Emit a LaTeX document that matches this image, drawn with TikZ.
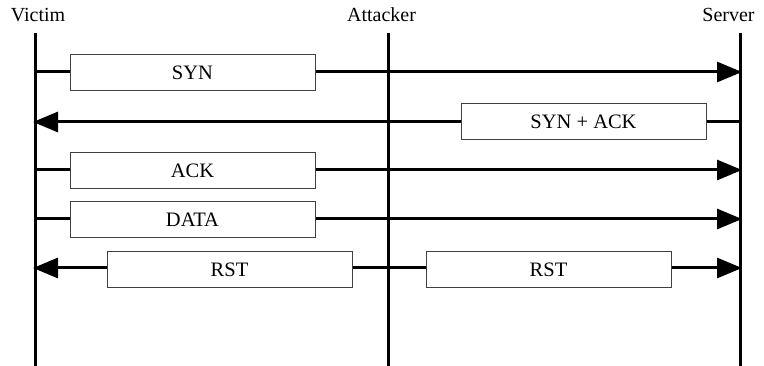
\documentclass[tikz,border=0pt]{standalone}
\usepackage{fontspec}
\setmainfont{Liberation Serif}
\usetikzlibrary{arrows.meta}
\begin{document}
\begin{tikzpicture}[x=1pt,y=-1pt,
  life/.style={line width=3pt},
  msg/.style={line width=3pt,-{Triangle[length=25pt,width=20pt]}},
  pkt/.style={draw=black!75,line width=1pt,fill=white,minimum width=245pt,minimum height=36pt,inner sep=0pt,font=\fontsize{20.5}{24}\selectfont},
  lbl/.style={font=\fontsize{20}{24}\selectfont,inner sep=0pt,anchor=base}]
\useasboundingbox (0,0) rectangle (764,366);
% headers
\node[lbl] (vl) at (38,22) {Victim};
\node[lbl] (al) at (381.5,22) {Attacker};
\node[lbl] (sl) at (728.5,22) {Server};
% lifelines
\coordinate (vt) at (35,33);  \coordinate (vb) at (35,366);
\coordinate (at) at (388,33); \coordinate (ab) at (388,366);
\coordinate (st) at (740,33); \coordinate (sb) at (740,366);
\draw[life] (vt) -- (vb);
\draw[life] (at) -- (ab);
\draw[life] (st) -- (sb);
% message endpoints
\coordinate (v1) at (35,72);  \coordinate (s1) at (742,72);
\coordinate (v2) at (33,122); \coordinate (s2) at (740,122);
\coordinate (v3) at (35,170); \coordinate (s3) at (742,170);
\coordinate (v4) at (35,219); \coordinate (s4) at (742,219);
\coordinate (v5) at (33,268); \coordinate (a5) at (388,268); \coordinate (s5) at (742,268);
\draw[msg] (v1) -- (s1);
\draw[msg] (s2) -- (v2);
\draw[msg] (v3) -- (s3);
\draw[msg] (v4) -- (s4);
\draw[msg] (a5) -- (v5);
\draw[msg] (a5) -- (s5);
% packet boxes
\node[pkt] (syn)  at (192.5,72.8) {SYN};
\node[pkt] (synack) at (583.5,122) {SYN + ACK};
\node[pkt] (ack)  at (192.5,171) {ACK};
\node[pkt] (data) at (192.5,220) {DATA};
\node[pkt] (rst1) at (229.5,269.5) {RST};
\node[pkt] (rst2) at (548.5,269.5) {RST};
\end{tikzpicture}
\end{document}
